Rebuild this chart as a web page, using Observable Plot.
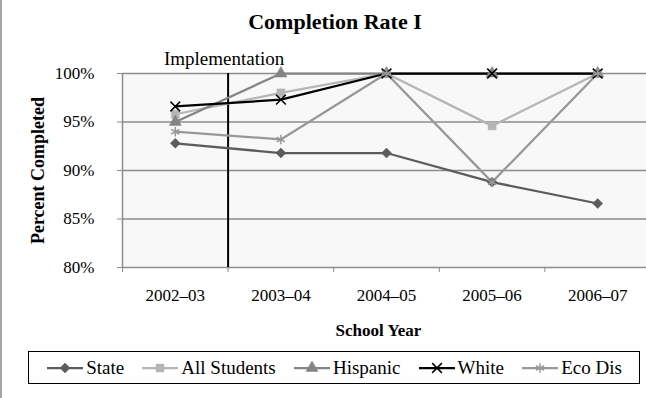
<!DOCTYPE html>
<html>
<head>
<meta charset="utf-8">
<script src="https://cdn.jsdelivr.net/npm/d3@7"></script>
<script src="https://cdn.jsdelivr.net/npm/@observablehq/plot@0.6"></script>
<style>
  html, body { margin: 0; padding: 0; background: #fff; }
  #wrap { position: relative; width: 646px; height: 398px; overflow: hidden; font-family: "Liberation Serif", serif; }
  #border { position: absolute; left: 0; top: 0; width: 2px; height: 398px; background: #a6a6a6; z-index: 2; }
  #title { position: absolute; left: 24px; top: 0; width: 622px; height: 44px; text-align: center; font-weight: bold; font-size: 22px; line-height: 44px; }
  #chart { position: absolute; left: 0; top: 45px; width: 652px; }
  #chart svg { max-width: none !important; }
  #legend { position: absolute; left: 28px; top: 351px; width: 610px; height: 31px; border: 1px solid #000; display: flex; align-items: center; justify-content: space-evenly; font-size: 19px; }
  .item { display: flex; align-items: center; }
  .item svg { margin-right: 2px; }
  #chart svg text { font-family: "Liberation Serif", serif; }
</style>
</head>
<body>
<div id="wrap">
  <div id="border"></div>
  <div id="title">Completion Rate I</div>
  <div id="chart"></div>
  <div id="legend"></div>
</div>
<script>
const years = ["2002–03", "2003–04", "2004–05", "2005–06", "2006–07"];
const seriesNames = ["State", "All Students", "Hispanic", "White", "Eco Dis"];
const state = [92.8, 91.8, 91.8, 88.8, 86.6];
const allStudents = [95.8, 98.0, 100, 94.6, 100];
const hispanic = [95.0, 100, 100, 100, 100];
const white = [96.6, 97.3, 100, 100, 100];
const ecoDis = [94.0, 93.2, 100, 88.8, 100];
const yTicks = [80, 85, 90, 95, 100];
const implementationLabel = "Implementation";
const implementationAfter = 0; // between first and second school year

const styles = {
  "State":        {color: "#5c5c5c", symbol: "diamond2", fill: true,  r: 4.5},
  "All Students": {color: "#b5b5b5", symbol: "square",   fill: true,  r: 4.5},
  "Hispanic":     {color: "#848484", symbol: "triangle", fill: true,  r: 4.5},
  "White":        {color: "#000000", symbol: "times",    fill: false, r: 4.5},
  "Eco Dis":      {color: "#989898", symbol: "asterisk", fill: false, r: 4.5}
};
const valuesBySeries = [state, allStudents, hispanic, white, ecoDis];
const data = [];
seriesNames.forEach((s, k) => valuesBySeries[k].forEach((v, i) => data.push({series: s, i, value: v})));

const gray = "#8c8c8c";
const font = "Liberation Serif, serif";
const boundaries = d3.range(years.length + 1).map(i => i - 0.5);

const marks = [
  Plot.frame({fill: "#f8f8f8", stroke: null}),
  Plot.gridY({ticks: yTicks, stroke: gray, strokeOpacity: 1, strokeWidth: 1.5}),
  Plot.ruleX([boundaries[0]], {stroke: gray, strokeWidth: 1.5}),
  Plot.axisY({ticks: yTicks, tickFormat: d => d + "%", tickSize: 5, tickPadding: 23, stroke: gray, label: null, fontSize: 17, fontFamily: font}),
  Plot.axisX({ticks: boundaries, tickFormat: () => "", tickSize: 5, stroke: gray, label: null}),
  Plot.axisX({ticks: d3.range(years.length), tickFormat: i => years[i], tickSize: 0, tickPadding: 21, label: null, fontSize: 17, fontFamily: font}),
  Plot.ruleX([implementationAfter + 0.5], {y1: yTicks[0], y2: 100, stroke: "#000", strokeWidth: 2}),
  Plot.text([implementationLabel], {x: implementationAfter + 0.5, y: 100, dx: -4, dy: -15, fontSize: 19, fontFamily: font}),
  Plot.text(["School Year"], {frameAnchor: "bottom", dx: -8, dy: 68, fontWeight: "bold", fontSize: 17, fontFamily: font}),
  Plot.text(["Percent Completed"], {frameAnchor: "left", textAnchor: "middle", dx: -84, rotate: -90, fontWeight: "bold", fontSize: 18, fontFamily: font})
];
seriesNames.forEach(s => {
  const st = styles[s];
  const d = data.filter(e => e.series === s);
  marks.push(Plot.line(d, {x: "i", y: "value", stroke: st.color, strokeWidth: 2.25}));
});
seriesNames.forEach(s => {
  const st = styles[s];
  const d = data.filter(e => e.series === s);
  marks.push(Plot.dot(d, {x: "i", y: "value", symbol: () => st.symbol, r: st.r,
    fill: st.fill ? st.color : "none", stroke: st.color, strokeWidth: st.fill ? 0.5 : 1.5}));
});

const chart = Plot.plot({
  width: 652, height: 300,
  marginTop: 28, marginBottom: 78, marginLeft: 122, marginRight: 2,
  style: {fontFamily: font, fontSize: "17px", color: "#000", background: "transparent", overflow: "visible"},
  x: {domain: [boundaries[0], boundaries[boundaries.length - 1]]},
  y: {domain: [yTicks[0], 100]},
  symbol: {type: "identity"},
  marks
});
document.getElementById("chart").appendChild(chart);

// legend
const legend = d3.select("#legend");
const symMap = {diamond2: d3.symbolDiamond2, square: d3.symbolSquare, triangle: d3.symbolTriangle, times: d3.symbolTimes, asterisk: d3.symbolAsterisk};
seriesNames.forEach(s => {
  const st = styles[s];
  const item = legend.append("div").attr("class", "item");
  const svg = item.append("svg").attr("width", 38).attr("height", 14);
  svg.append("line").attr("x1", 1).attr("x2", 37).attr("y1", 7).attr("y2", 7).attr("stroke", st.color).attr("stroke-width", 2.25);
  const size = Math.PI * st.r * st.r;
  svg.append("path").attr("transform", "translate(19,7)").attr("d", d3.symbol(symMap[st.symbol], size)())
    .attr("fill", st.fill ? st.color : "none").attr("stroke", st.color).attr("stroke-width", st.fill ? 0.5 : 1.5);
  item.append("span").text(s);
});
</script>
</body>
</html>
